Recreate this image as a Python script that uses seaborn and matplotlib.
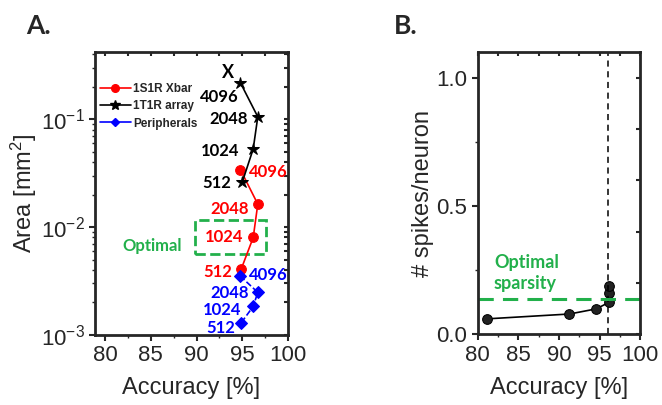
import numpy as np
import pandas as pd
import matplotlib
matplotlib.use("Agg")
import matplotlib.pyplot as plt
import seaborn as sns
from matplotlib.patches import Rectangle
from matplotlib.ticker import MultipleLocator, FixedLocator

sns.set_style("ticks")
plt.rcParams["font.family"] = ["Liberation Sans", "DejaVu Sans"]
plt.rcParams["mathtext.fontset"] = "custom"
plt.rcParams["mathtext.rm"] = "Liberation Sans"
plt.rcParams["mathtext.it"] = "Liberation Sans:italic"

# --- Panel A data: area vs accuracy for array sizes ---
sizes = ["512", "1024", "2048", "4096"]
xbar_acc = [94.9, 96.2, 96.7, 94.8]
xbar_area = [0.0041, 0.0080, 0.0163, 0.034]
array_acc = [95.0, 96.2, 96.7, 94.8]
array_area = [0.026, 0.053, 0.105, 0.217]
periph_acc = [94.9, 96.2, 96.7, 94.8]
periph_area = [0.0013, 0.00184, 0.00248, 0.0035]

# --- Panel B data: spikes per neuron vs accuracy ---
spk_acc = [81.1, 91.3, 94.6, 96.2, 96.2, 96.2]
spk_rate = [0.060, 0.079, 0.099, 0.125, 0.160, 0.190]
optimal_acc = 96.1
optimal_sparsity = 0.136

FONT_ANN = ["Lato", "DejaVu Sans"]
GREEN = "#22b04b"

fig = plt.figure(figsize=(6.62, 4.05), dpi=100)
ax1 = fig.add_axes([0.1435, 0.173, 0.2915, 0.699])
ax2 = fig.add_axes([0.7216, 0.1746, 0.2454, 0.6974])

df_a = pd.DataFrame({
    "acc": xbar_acc + array_acc + periph_acc,
    "area": xbar_area + array_area + periph_area,
    "series": ["1S1R Xbar"] * 4 + ["1T1R array"] * 4 + ["Peripherals"] * 4,
})

styles = {
    "1S1R Xbar": dict(color="red", marker="o", ms=7, ls="-"),
    "1T1R array": dict(color="black", marker="*", ms=9, ls="-"),
    "Peripherals": dict(color="blue", marker="D", ms=6, ls="--"),
}
for name in ["1S1R Xbar", "1T1R array", "Peripherals"]:
    sub = df_a[df_a.series == name]
    st = styles[name]
    sns.lineplot(data=sub, x="acc", y="area", sort=False, estimator=None, ax=ax1,
                 color=st["color"], marker=st["marker"], markersize=st["ms"],
                 markeredgecolor=st["color"], linewidth=1.2, linestyle=st["ls"])

# legend handles drawn solid, like the reference
handles = [plt.Line2D([], [], color=styles[n]["color"], marker=styles[n]["marker"],
                      markersize=styles[n]["ms"] - 1.5, linewidth=1.2)
           for n in styles]
ax1.legend(handles, list(styles), loc="upper left", bbox_to_anchor=(-0.01, 0.915), frameon=False,
           prop={"family": "Liberation Sans", "weight": "bold", "size": 8.5},
           handlelength=2.6, handletextpad=0.2, labelspacing=0.45, borderaxespad=0.2)

ax1.set_yscale("log")
ax1.set_xlim(78.9, 100)
ax1.set_ylim(1e-3, 0.42)
ax1.xaxis.set_major_locator(FixedLocator([80, 85, 90, 95, 100]))
ax1.xaxis.set_minor_locator(MultipleLocator(2.5))
ax1.set_xlabel("Accuracy [%]", fontsize=17, labelpad=8)
ax1.set_ylabel("Area [mm$^2$]", fontsize=17, labelpad=1)

ann = dict(fontsize=12, fontweight="bold", family=FONT_ANN, ha="center", va="center")
ax1.text(93.5, 0.27, "X", color="black", **{**ann, "fontsize": 13})
for lbl, (x, y) in zip(["4096", "2048", "1024", "512"],
                       [(92.5, 0.16), (93.5, 0.101), (92.6, 0.051), (92.2, 0.0257)]):
    ax1.text(x, y, lbl, color="black", **ann)
for lbl, (x, y) in zip(["4096", "2048", "1024", "512"],
                       [(97.8, 0.0325), (93.6, 0.0146), (93.0, 0.0080), (92.3, 0.00385)]):
    ax1.text(x, y, lbl, color="red", **ann)
for lbl, (x, y) in zip(["4096", "2048", "1024", "512"],
                       [(97.8, 0.0036), (93.6, 0.00247), (92.8, 0.0017), (92.6, 0.00115)]):
    ax1.text(x, y, lbl, color="blue", **ann)
ax1.text(85.1, 0.0067, "Optimal", color=GREEN, **ann)
ax1.add_patch(Rectangle((89.8, 0.0056), 97.6 - 89.8, 0.0117 - 0.0056, fill=False,
                        edgecolor=GREEN, linestyle="--", linewidth=2))

# Panel B
df_b = pd.DataFrame({"acc": spk_acc, "rate": spk_rate})
sns.lineplot(data=df_b, x="acc", y="rate", sort=False, estimator=None, ax=ax2, color="black",
             marker="o", markersize=7, markerfacecolor="#222222", markeredgecolor="black",
             linewidth=1.2)
ax2.axvline(optimal_acc, color="black", linestyle=(0, (4, 3)), linewidth=1.1)
ax2.axhline(optimal_sparsity, color=GREEN, linestyle=(0, (5, 3)), linewidth=2.2)
ax2.text(82.0, 0.238, "Optimal\nsparsity", color=GREEN, fontsize=13, fontweight="bold",
         family=FONT_ANN, ha="left", va="center", linespacing=1.25)
ax2.set_xlim(80, 100)
ax2.set_ylim(0, 1.1)
ax2.xaxis.set_major_locator(FixedLocator([80, 85, 90, 95, 100]))
ax2.xaxis.set_minor_locator(MultipleLocator(2.5))
ax2.yaxis.set_major_locator(FixedLocator([0.0, 0.5, 1.0]))
ax2.yaxis.set_minor_locator(MultipleLocator(0.25))
ax2.set_xlabel("Accuracy [%]", fontsize=17, labelpad=8)
ax2.set_ylabel("# spikes/neuron", fontsize=17, labelpad=2)

for ax in (ax1, ax2):
    for sp in ax.spines.values():
        sp.set_linewidth(2)
        sp.set_visible(True)
    ax.tick_params(axis="both", which="major", labelsize=16, direction="out", length=4, width=1.5)
    ax.tick_params(axis="both", which="minor", direction="out", length=2.5, width=1)
    # mirrored ticks pointing inward on top/right
    top = ax.secondary_xaxis("top")
    top.set_xticks(ax.get_xticks(minor=True), minor=True)
    top.set_xticks(ax.get_xticks())
    top.tick_params(which="both", direction="in", labeltop=False, length=3, width=1.5)
    top.spines["top"].set_visible(False)
    right = ax.secondary_yaxis("right")
    right.tick_params(which="both", direction="in", labelright=False, length=3, width=1.5)
    right.spines["right"].set_visible(False)
    right.set_yscale(ax.get_yscale())

fig.text(0.04, 0.915, "A.", fontsize=19, fontweight="bold", family=FONT_ANN)
fig.text(0.595, 0.915, "B.", fontsize=19, fontweight="bold", family=FONT_ANN)

fig.savefig("out.png", dpi=100)
